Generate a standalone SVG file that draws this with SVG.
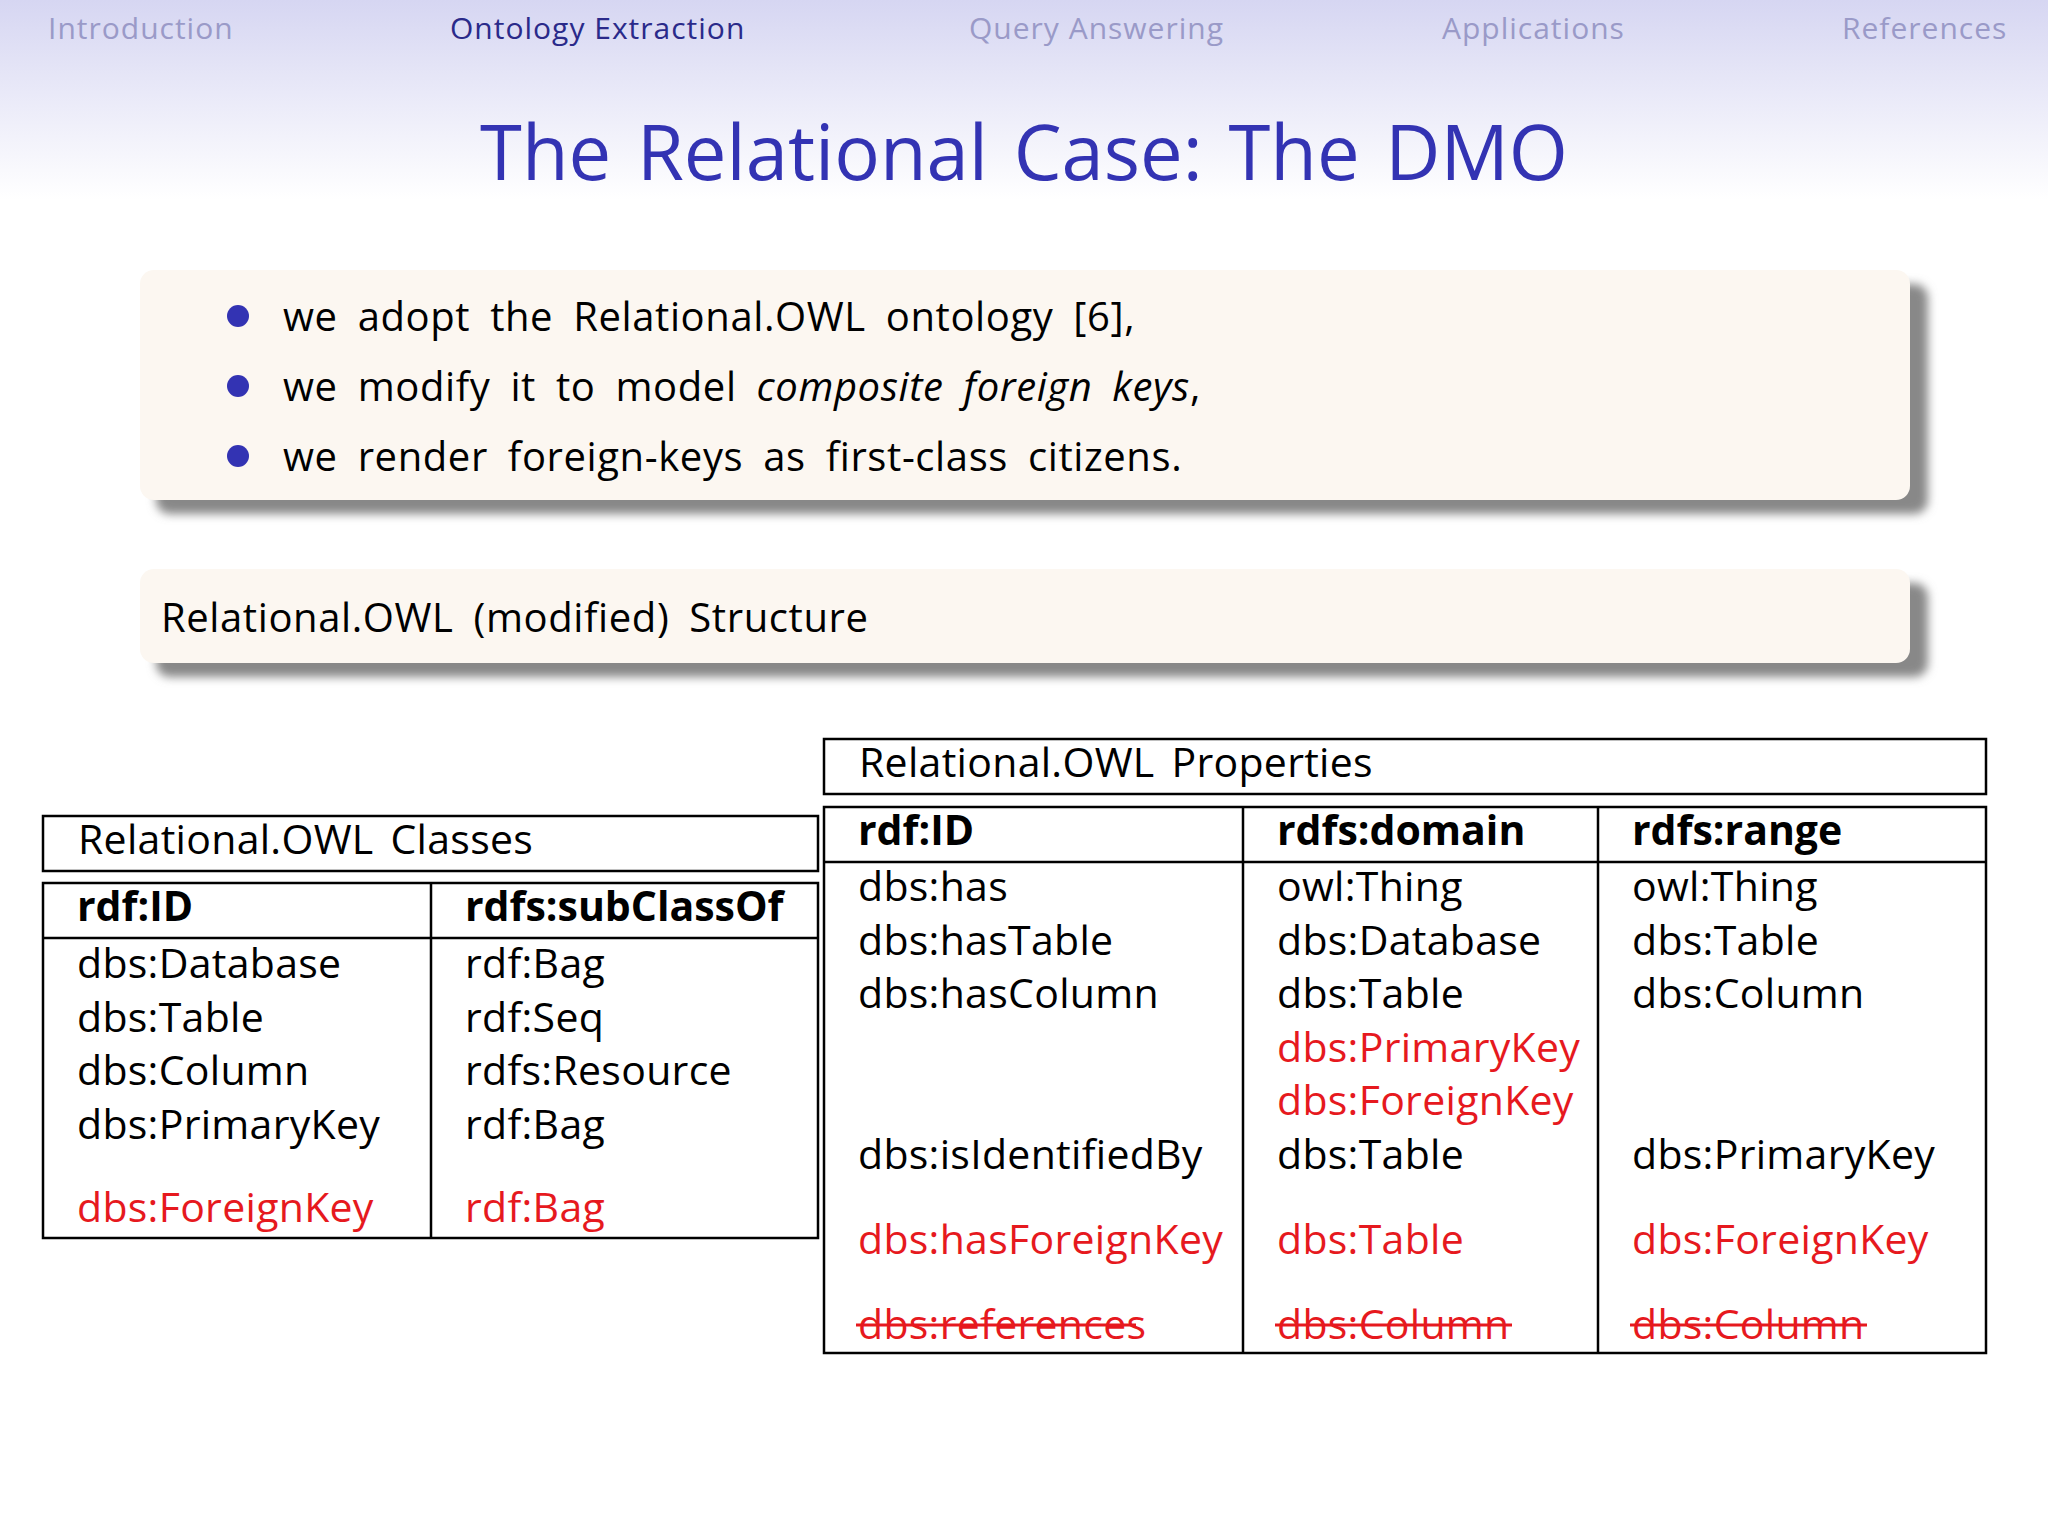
<svg xmlns="http://www.w3.org/2000/svg" width="2048" height="1536" viewBox="0 0 2048 1536">
<defs>
<linearGradient id="hg" x1="0" y1="0" x2="0" y2="1"><stop offset="0" stop-color="#d6d6f2"/><stop offset="1" stop-color="#ffffff"/></linearGradient>
<filter id="sh" x="-5%" y="-20%" width="110%" height="140%"><feGaussianBlur stdDeviation="5"/></filter>
<style>
text{font-family:"Open Sans","DejaVu Sans",sans-serif}
.nav{font-size:30px;fill:#9a9ac8;letter-spacing:1px}
.b{font-size:40px;fill:#000;word-spacing:9px;letter-spacing:0.6px}
.t{font-size:41px;fill:#000;letter-spacing:0.3px}
.h{font-size:41px;font-weight:bold;fill:#000}
.r{fill:#e6191e}
.ln{stroke:#000;stroke-width:2.5;fill:none}
.st{stroke:#e6191e;stroke-width:3}
</style>
</defs>
<rect width="2048" height="1536" fill="#fff"/>
<rect width="2048" height="200" fill="url(#hg)"/>
<g id="nav">
<text class="nav" x="48" y="39">Introduction</text>
<text class="nav" x="450" y="39" style="fill:#2a2a8a">Ontology Extraction</text>
<text class="nav" x="969" y="39">Query Answering</text>
<text class="nav" x="1442" y="39">Applications</text>
<text class="nav" x="1842" y="39">References</text>
</g>
<text x="1024" y="180" text-anchor="middle" style="font-size:76px;fill:#3333b3;word-spacing:6px">The Relational Case:  The DMO</text>
<g id="box1">
<rect x="156" y="284" width="1772" height="230" rx="14" fill="#888" filter="url(#sh)"/>
<rect x="140" y="270" width="1770" height="230" rx="14" fill="#fcf7f1"/>
<circle cx="238" cy="316" r="11" fill="#3333b3"/>
<circle cx="238" cy="386" r="11" fill="#3333b3"/>
<circle cx="238" cy="456" r="11" fill="#3333b3"/>
<text class="b" x="283" y="331">we adopt the Relational.OWL ontology [6],</text>
<text class="b" x="283" y="401">we modify it to model <tspan font-style="italic">composite foreign keys</tspan>,</text>
<text class="b" x="283" y="471">we render foreign-keys as first-class citizens.</text>
</g>
<g id="box2">
<rect x="156" y="583" width="1772" height="94" rx="14" fill="#888" filter="url(#sh)"/>
<rect x="140" y="569" width="1770" height="94" rx="14" fill="#fcf7f1"/>
<text class="b" x="161" y="632">Relational.OWL (modified) Structure</text>
</g>
<g id="classes">
<rect class="ln" x="43" y="816" width="775" height="55"/>
<text class="t" x="78" y="854" style="word-spacing:6px">Relational.OWL  Classes</text>
<rect class="ln" x="43" y="883" width="775" height="355"/>
<line class="ln" x1="43" y1="938" x2="818" y2="938"/>
<line class="ln" x1="431" y1="883" x2="431" y2="1238"/>
<text class="h" x="77" y="921">rdf:ID</text><text class="h" x="465" y="921">rdfs:subClassOf</text>
<text class="t" x="77" y="978">dbs:Database</text><text class="t" x="465" y="978">rdf:Bag</text>
<text class="t" x="77" y="1032">dbs:Table</text><text class="t" x="465" y="1032">rdf:Seq</text>
<text class="t" x="77" y="1085">dbs:Column</text><text class="t" x="465" y="1085">rdfs:Resource</text>
<text class="t" x="77" y="1139">dbs:PrimaryKey</text><text class="t" x="465" y="1139">rdf:Bag</text>
<text class="t r" x="77" y="1222">dbs:ForeignKey</text><text class="t r" x="465" y="1222">rdf:Bag</text>
</g>
<g id="properties">
<rect class="ln" x="824" y="739" width="1162" height="55"/>
<text class="t" x="859" y="777" style="word-spacing:6px">Relational.OWL  Properties</text>
<rect class="ln" x="824" y="807" width="1162" height="546"/>
<line class="ln" x1="824" y1="862" x2="1986" y2="862"/>
<line class="ln" x1="1243" y1="807" x2="1243" y2="1353"/>
<line class="ln" x1="1598" y1="807" x2="1598" y2="1353"/>
<text class="h" x="858" y="845">rdf:ID</text><text class="h" x="1277" y="845">rdfs:domain</text><text class="h" x="1632" y="845">rdfs:range</text>
<text class="t" x="858" y="901">dbs:has</text><text class="t" x="1277" y="901">owl:Thing</text><text class="t" x="1632" y="901">owl:Thing</text>
<text class="t" x="858" y="955">dbs:hasTable</text><text class="t" x="1277" y="955">dbs:Database</text><text class="t" x="1632" y="955">dbs:Table</text>
<text class="t" x="858" y="1008">dbs:hasColumn</text><text class="t" x="1277" y="1008">dbs:Table</text><text class="t" x="1632" y="1008">dbs:Column</text>
<text class="t r" x="1277" y="1062">dbs:PrimaryKey</text>
<text class="t r" x="1277" y="1115">dbs:ForeignKey</text>
<text class="t" x="858" y="1169">dbs:isIdentifiedBy</text><text class="t" x="1277" y="1169">dbs:Table</text><text class="t" x="1632" y="1169">dbs:PrimaryKey</text>
<text class="t r" x="858" y="1254">dbs:hasForeignKey</text><text class="t r" x="1277" y="1254">dbs:Table</text><text class="t r" x="1632" y="1254">dbs:ForeignKey</text>
<text class="t r" x="858" y="1339">dbs:references</text><text class="t r" x="1277" y="1339">dbs:Column</text><text class="t r" x="1632" y="1339">dbs:Column</text>
<line class="st" x1="856" y1="1325" x2="1136" y2="1325"/>
<line class="st" x1="1275" y1="1325" x2="1512" y2="1325"/>
<line class="st" x1="1630" y1="1325" x2="1867" y2="1325"/>
</g>
</svg>
